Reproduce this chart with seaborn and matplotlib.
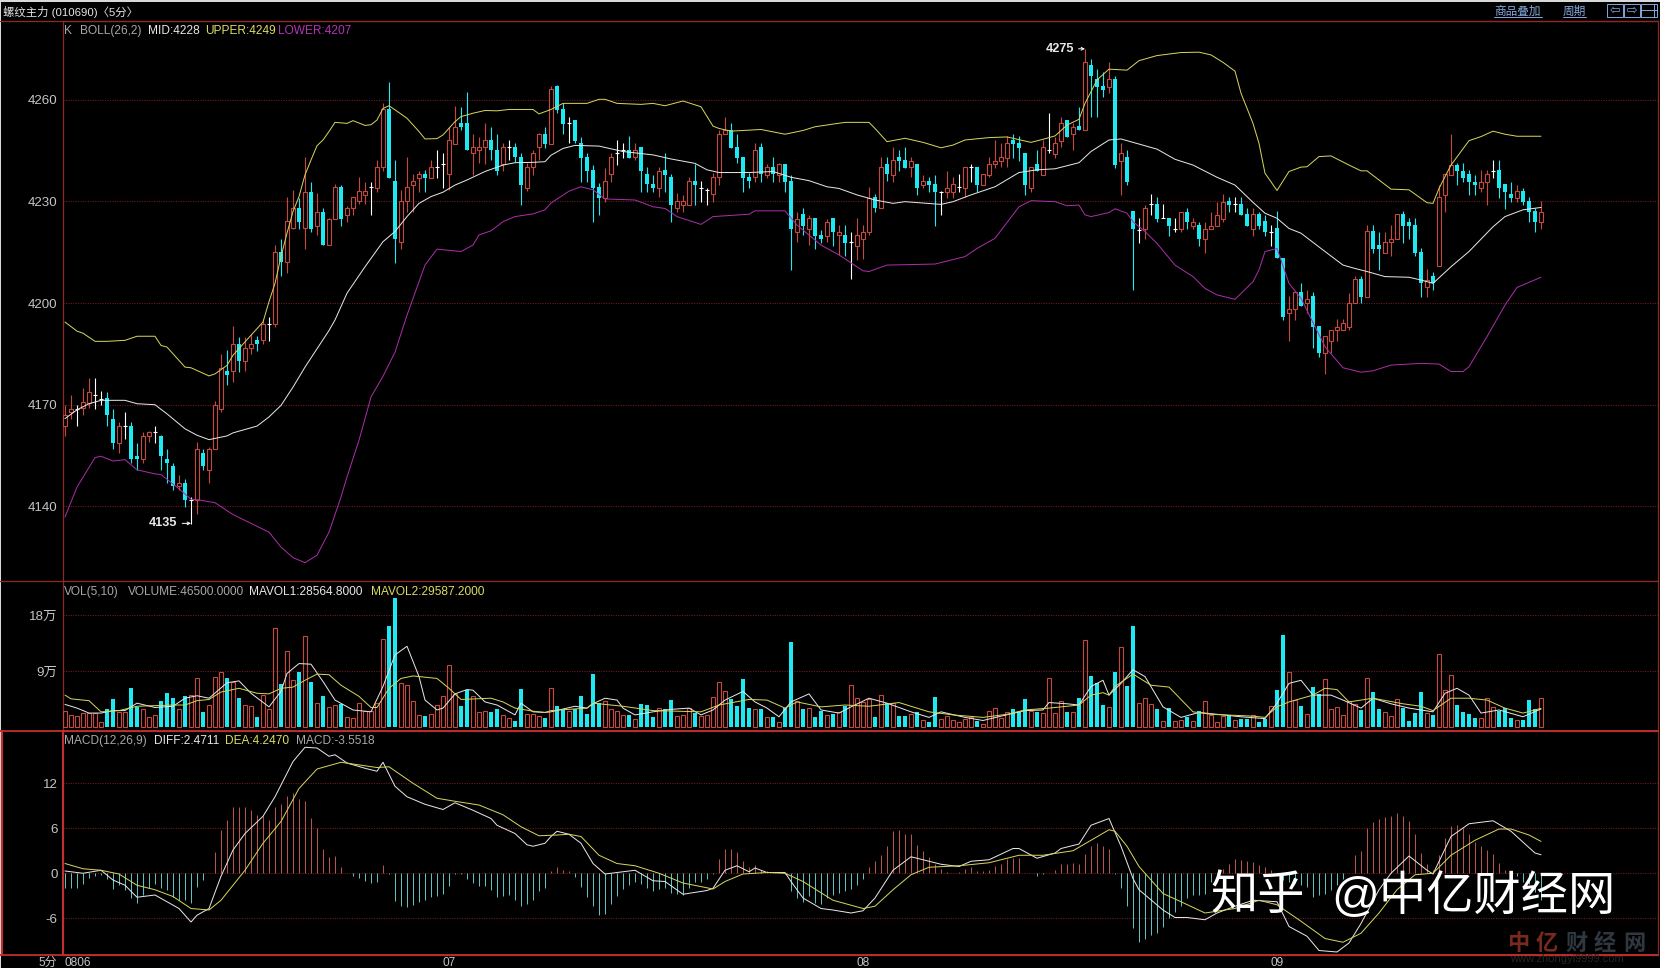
import matplotlib
matplotlib.use("Agg")
import numpy as np
import pandas as pd
import seaborn as sns
import matplotlib.pyplot as plt
from matplotlib.lines import Line2D
from matplotlib.patches import Rectangle

# one entry per 5 minute bar
opens = [4163.7,4167.8,4168.7,4169.1,4170.5,4172.8,4171.8,4172,4165.9,4158.7,
    4163.8,4163.8,4155,4154,4160.9,4161.9,4160.9,4154,4152,4145.9,
    4147,4142,4141.9,4155.8,4150.7,4157,4168.6,4180,4180,4188,
    4182.9,4186.7,4189,4189,4193.9,4193.9,4215,4212,4222,4228,
    4222,4232.9,4222.8,4227,4217,4224.9,4234.1,4226,4228,4230,
    4232,4234.1,4234,4240,4257.2,4235.9,4218,4230,4234.8,4236.9,
    4238,4237,4240,4240.9,4238,4247,4253,4253,4244.2,4245,
    4246,4248,4245,4241,4246,4246,4243,4234,4240,4246,
    4250,4247,4264,4257.1,4253.2,4253.9,4247.1,4243,4239.2,4234.1,
    4231.1,4238,4244.2,4245,4245,4243,4245.9,4238,4235,4234,
    4239.3,4237.2,4227.9,4229,4229,4235.9,4234,4233.2,4232.1,4237.1,
    4250,4250.9,4245.9,4243,4237.1,4237.1,4245.9,4237.9,4240,4237.9,
    4240.9,4235.9,4221,4226.3,4221.9,4225,4220,4219.9,4225,4220,
    4220,4217.9,4216.9,4218.9,4221,4231.2,4227.9,4241,4237.9,4243.2,
    4242.2,4240,4241,4234.8,4235.9,4235,4232.9,4232.9,4232.9,4234.1,
    4233.9,4240,4240,4234.9,4237.9,4240.9,4241.9,4242.9,4248.1,4247.1,
    4244.2,4233.9,4241,4237.9,4245,4244,4247.8,4254,4250,4252.1,
    4250.9,4270.2,4266,4264,4263.8,4266,4241.9,4243,4227.2,4221.4,
    4221.9,4229.1,4229.2,4225,4225,4221.9,4221.9,4227,4222.8,4223,
    4219,4221.9,4222.8,4224.9,4230.1,4229.1,4229.2,4226.2,4221.9,4226.2,
    4224.2,4221,4222,4213.2,4197,4198.1,4203.2,4200,4202.1,4193.1,
    4185.2,4188.9,4192,4191.9,4193,4199.9,4207.1,4201.9,4221.2,4217,
    4214.9,4217.9,4218.9,4226.2,4224,4222.9,4215,4204.8,4208,4211,
    4232,4237.8,4240.8,4239,4238,4235.8,4233.8,4235.8,4239,4239.3,
    4235,4232.1,4230.9,4233,4230,4227.2,4224]
closes = [4167,4168.8,4168.7,4170.8,4173.8,4172.8,4171.8,4167,4158.7,4163.8,
    4163.8,4154,4153.9,4160.9,4161.9,4161.9,4154.9,4152.8,4145.9,4146.9,
    4141.9,4142,4157,4151.9,4157,4170,4180.8,4178.7,4188,4182.9,
    4186.8,4188,4187.8,4193.9,4193.9,4215,4212,4224.1,4228,4224,
    4232.9,4221.8,4227,4217,4224.9,4234.1,4224.9,4228,4231.2,4233,
    4233,4234.1,4240,4257.2,4237,4219,4230,4234.1,4235.9,4238,
    4236.9,4240,4240,4240.9,4248,4252,4251.9,4245,4246,4246,
    4248,4245,4239,4246,4246,4243,4234.8,4240,4244.2,4250,
    4247,4263,4257,4252.8,4253.2,4247.8,4242.9,4239,4233.9,4231.1,
    4235.9,4243,4244.2,4245,4242.9,4245,4239,4235,4233.9,4239,
    4237.9,4228.9,4230,4230,4235.9,4234.8,4234,4233.2,4237.1,4250,
    4251,4245.7,4242.9,4237,4235.9,4245.2,4238,4240,4238,4241,
    4235.8,4221.9,4224.9,4222.8,4225,4219.9,4218.9,4224,4221,4221,
    4217.8,4217.9,4220,4221,4231.1,4227.9,4240,4238,4242.1,4242,
    4239.9,4242,4233.9,4235.9,4234.8,4232.8,4232.9,4233.9,4235,4234.1,
    4240,4240,4234.8,4238,4241,4242,4243,4247.1,4247,4245.8,
    4234.8,4240,4239,4245.9,4245,4247.1,4253,4249,4252,4250.9,
    4271.2,4267.1,4263.8,4262.9,4266.1,4240.7,4244.2,4235.8,4221.9,4221.4,
    4228,4229.1,4224.9,4225,4222.7,4221.9,4227,4224,4224,4218.9,
    4221.9,4222.8,4226,4229.9,4228.9,4229.1,4226,4222.8,4226.2,4222.8,
    4221,4221,4213.2,4196,4198.1,4203.2,4199,4201.1,4193,4185.2,
    4190.3,4191.9,4193,4194,4199.9,4207.1,4201.9,4221.2,4216,4216,
    4217.9,4219,4226.2,4222.7,4222.8,4214.7,4205.8,4206.8,4205.8,4231.2,
    4238,4240.7,4239,4237,4235.8,4234.8,4235.8,4238,4239,4233.8,
    4232.9,4230.9,4233,4229.9,4227,4224,4227]
highs = [4170,4173,4170,4175,4178,4178,4174,4173.8,4168.8,4164.9,
    4167.8,4164.9,4158.7,4161.9,4162.2,4163.8,4161,4157,4152.8,4149.2,
    4148,4142.8,4159,4157,4157.5,4171,4185,4186,4193.1,4190,
    4190,4190.9,4190.2,4195.4,4196,4217,4219,4231.2,4233.2,4231,
    4243,4235.8,4232.4,4228,4225,4235,4234.8,4228.6,4231.4,4237.3,
    4235.8,4235.8,4242.2,4258.9,4265.1,4242.2,4233.2,4243,4238,4239,
    4239.3,4242.2,4245.2,4244.2,4252,4258,4257.9,4262.2,4250,4249,
    4253,4252,4250,4247.1,4248,4247.1,4244.2,4241.2,4245.2,4250.1,
    4252,4264,4264.2,4259,4255,4254,4249.1,4244.2,4240.7,4235.3,
    4239.9,4244.2,4248.1,4247.1,4249.3,4247.1,4246,4240,4237.8,4240,
    4244.2,4238,4232.4,4231.9,4237.1,4241,4236,4234,4238.3,4251,
    4255,4253.2,4250,4243,4238.3,4247.1,4247.1,4241,4243,4241.2,
    4241,4237.8,4227,4227.9,4226,4225,4221.6,4224.7,4225,4223,
    4223,4221,4225,4223,4234.1,4232.1,4243,4243,4245.9,4245,
    4245.9,4243,4241,4237.8,4237.1,4237.8,4233,4239,4237.1,4238,
    4240,4241,4240,4238,4243,4248.1,4247.1,4249.3,4250,4249.3,
    4244.2,4240,4245,4248.1,4256,4249.1,4255,4254,4253,4257.9,
    4275,4272,4269,4268.3,4271.2,4267,4247.1,4245.2,4227.2,4225,
    4229,4232.2,4231.2,4229.2,4225,4225,4227,4228,4225,4224,
    4224,4227,4229.9,4232.2,4231.4,4231.2,4231.2,4228,4228,4227,
    4226,4223,4227.2,4213.2,4202,4203.2,4206,4203.9,4203.2,4193.1,
    4190.3,4191.9,4195.2,4195.2,4203,4208,4208,4223,4223,4221,
    4221,4223,4226.2,4227.2,4225,4225,4216.1,4210,4209.3,4234.8,
    4238,4250,4241.2,4241.2,4239.3,4237.8,4239.3,4239.3,4242.2,4242.2,
    4235,4235.8,4234.8,4234,4231.2,4228,4230]
lows = [4160.8,4165.7,4163.7,4166.9,4169.1,4168.8,4169.8,4163.7,4156.9,4155.7,
    4159.9,4152.8,4150.8,4152.8,4159,4158.7,4150.6,4146.9,4144.7,4144.7,
    4139.8,4134.9,4137.8,4150.6,4146.9,4157,4167.8,4175.7,4176.7,4179.6,
    4179.9,4185,4185.8,4187.8,4188.8,4192.9,4208,4209,4221.8,4221.8,
    4215.9,4221,4220,4217,4217,4224.9,4222.8,4224,4226,4229.2,
    4229.2,4226,4232.9,4239,4237,4211.9,4215.9,4227,4227,4232.9,
    4232.9,4237,4237,4233.8,4233.4,4247,4250.9,4245,4237.8,4241.2,
    4241,4242.2,4237.8,4239,4242.2,4241.7,4228.9,4233,4237.8,4242.2,
    4245.6,4247,4256,4249.9,4247.1,4247.1,4235.8,4235.8,4224,4226,
    4229.9,4235.8,4240.7,4242.9,4242.9,4242.2,4232.9,4232.9,4232.9,4231.2,
    4232.9,4224,4227,4226.9,4229,4229,4229.9,4229,4229.9,4234.8,
    4249.9,4245.7,4241.2,4232.9,4233.8,4235.8,4235.8,4237,4235.8,4235.8,
    4232.9,4209.8,4218.1,4220,4217.1,4216,4217.8,4218.1,4216.8,4214.2,
    4214,4207,4212.7,4213,4220,4226.9,4227.9,4236,4235.8,4239,
    4239.9,4237.1,4231.9,4233.8,4232.9,4222.8,4226,4230.9,4230.9,4232.9,
    4231.2,4235.8,4232.7,4234.9,4237.1,4239.7,4240,4240,4242.9,4241.9,
    4231.9,4232.9,4239,4237.9,4244.2,4242.9,4245.9,4249,4245,4250.9,
    4250.9,4255,4255,4260.7,4262.1,4239.9,4231.9,4234.8,4203.9,4217.8,
    4218.8,4226,4224,4225,4219.8,4221,4221,4221.9,4221.9,4216.8,
    4214.7,4221.9,4222.8,4224,4227,4227,4226,4222.8,4219.8,4221.9,
    4219.8,4216.8,4213.2,4195,4188.9,4195,4199,4197,4186.8,4184,
    4179,4185.2,4188.9,4191.9,4192,4199.9,4199.9,4201.9,4214.9,4209.8,
    4214.9,4213.9,4218.9,4217.8,4218.8,4213.9,4201.9,4201.9,4203.9,4211,
    4227,4237.8,4234.8,4235.8,4231.9,4231.9,4232.9,4228.9,4236.8,4230.9,
    4227.7,4229.9,4229.9,4228.9,4224,4221,4221.9]
# volume in units of 10 thousand
volumes = [2.5,1.9,1.7,2.2,2.2,2.2,.7,2.8,4.5,2.3,
    2.3,6.3,3.1,2.8,1.5,1.9,4.2,5.4,4.6,2.8,
    5,5.2,7.8,2.4,3.5,8,8.9,7.8,7.2,4.7,
    3.5,3.3,1.6,5.2,2.9,15.9,6.9,12.3,7.5,8.9,
    14.6,7.2,3.8,5,3.1,3.5,3.7,1.5,1.4,3.8,
    2.5,2.5,3.8,14.1,16.2,20.8,7,6.7,4.1,1.9,
    1.7,2,3.5,4.9,9.9,5.3,3.3,6,4.9,2.3,
    2.5,2.3,2.9,1.9,1.4,.9,6.1,2,2,1.7,
    1.4,6.2,3.3,2.8,2.6,2.8,5,2,8.5,3.8,
    4.2,2.8,2.5,1.9,1.9,1.2,3.6,3.5,1.6,3,
    2.8,4.3,1.7,1.9,3,2.2,1.7,1.9,4.8,7.3,
    5.7,4.5,3.4,7.7,3,2.9,2.9,1.6,1.6,.7,
    3,13.7,4.2,2.9,3,1.6,2.5,1.9,2.1,2.3,
    3.3,6.8,4.6,4,4.4,1.6,5.1,3.9,3.8,1.7,
    1.7,2,2.3,1,.8,4.8,1.2,1.8,1,.8,
    1.3,1.5,.9,.5,2.5,3,1.4,2.4,2.9,2.4,
    4.5,2.5,2.4,2.2,7.8,2.2,4.1,2.4,2.3,4.6,
    14,8.2,7.1,3.5,3.1,8.8,12.8,6.6,16.3,3.8,
    4.6,3.6,2.9,.9,3,.9,1,1.5,.9,2.5,
    4.1,1.9,.8,1.7,1.9,1.1,1.3,1.3,1.9,.8,
    1.3,3.3,5.9,14.8,8.9,4.3,3.3,2,6.4,5.3,
    7.7,2.8,3.1,1.9,4.2,3.7,2.7,7.8,5.6,2.9,
    2.3,1.7,4.4,3,.9,2.2,5.6,2.2,1.9,11.7,
    5.9,8.3,3.5,2.3,2,1.4,1.4,4.6,3.1,2.5,
    3,1.4,1,1.1,4.3,2.9,4.65]
macd_hist = [-2,-2,-1.9,-1.4,-.6,-.35,-.2,-.7,-2.1,-1.6,
    -2.2,-3.3,-3.9,-2.9,-2,-1.4,-1.9,-2.2,-3.1,-3.5,
    -3.6,-3.9,-1.8,-.9,.1,2.9,5.8,7.1,8.9,8.9,
    8.9,8.4,7.8,7.6,7.1,8.9,9.2,10.3,10.7,9.9,
    9.6,7.4,6,3.3,2.2,2.3,.9,.1,-.35,-.6,
    -1,-1.3,-1.1,1.1,-.1,-3.7,-4.4,-4.5,-4.2,-3.8,
    -3.6,-3.2,-3,-2.8,-1.7,-.1,-.1,-.8,-1.3,-1.7,
    -1.7,-2.2,-3.2,-3,-2.9,-3.6,-4.3,-4.1,-3.6,-2.3,
    -2,.3,.8,.5,.3,-.45,-1.8,-3.1,-4.4,-5.5,
    -5.4,-4.1,-3,-2.1,-1.6,-1.1,-1.4,-2,-2.4,-2.1,
    -2,-2.6,-2.7,-2.9,-2,-1.2,-1.1,-.8,-.1,1.9,
    3.3,3.3,2.9,1.6,.9,1.1,.5,.3,.1,.1,
    -.1,-2.4,-3.3,-3.8,-3,-4,-4.1,-3.3,-2.9,-2.6,
    -2.4,-2.1,-1.6,-.8,.9,1.6,2.4,3.6,5.6,5.8,
    5.3,5.2,3.8,3,2.2,1.3,.6,.2,.1,.2,
    .6,.8,.3,.3,.5,1,1.2,1.9,2.1,2,
    .1,0,-.35,-.1,.1,.4,1.3,1.2,1.4,1.3,
    2.6,3.6,4.1,3.6,3.2,-.1,-2,-4.4,-7.3,-9.1,
    -8.7,-8.2,-8,-7.1,-6,-5.1,-4.4,-3.3,-2.9,-2.9,
    -2.8,-1.1,-.2,.6,1.3,1.9,1.8,1.6,1.5,1.1,
    .8,.4,-.2,-.9,-1.1,-1.3,-1.6,-1.8,-3.1,-2.9,
    -2.7,-2.2,-1.6,-.7,.1,2.4,3,6,6.9,7.3,
    7.5,7.6,8,7.6,7,5.2,2.7,1.3,.4,2.4,
    4.7,6.3,6.5,6.1,5.3,4.2,3.6,3.1,2.6,1.4,
    .4,-.2,-.4,-1.1,-1.4,-2.5,-3.55]

# line readings as (bar number, value)
boll_upper = [(0,4194.4),(2,4191.7),(3,4191.1),(5,4188.7),(7,4188.7),(10,4189),(12,4190.2),(15,4190.2),(16,4187.5),(17,4187),
    (20,4181.1),(21,4180.9),(24,4178.5),(25,4179.1),(27,4181.6),(28,4184.6),(31,4190.5),(33,4194.4),(34,4200.4),(35,4205.8),
    (36,4213.7),(37,4220.6),(38,4227),(39,4231.4),(40,4237.8),(41,4242.2),(42,4246.4),(43,4248.1),(44,4250.6),(45,4253.3),
    (47,4253),(48,4253.8),(50,4252.4),(51,4252.6),(52,4254),(53,4257.4),(54,4258.2),(55,4257),(57,4254.5),(59,4250.6),
    (60,4248.4),(62,4248.5),(63,4249.6),(65,4253.5),(66,4255),(68,4256),(70,4256.8),(72,4256.7),(74,4257.1),(78,4257.1),
    (79,4255.8),(81,4257.1),(83,4258.9),(87,4258.9),(89,4260.1),(90,4260.1),(92,4258.9),(96,4258.6),(98,4258.9),(100,4258.2),
    (103,4259.6),(106,4257.9),(108,4252.2),(109,4251.5),(111,4250.7),(116,4251.2),(120,4249.8),(123,4250.9),(125,4252),(130,4253.3),
    (134,4253.3),(135,4251.5),(137,4247.6),(140,4248.6),(143,4247.4),(146,4245.8),(148,4246.6),(150,4248.1),(154,4248.8),(157,4249),
    (161,4247.4),(163,4248.3),(165,4249.3),(167,4252.5),(169,4254.2),(170,4258.9),(172,4265.8),(174,4269),(177,4268.7),(179,4271.5),
    (182,4273),(186,4273.9),(189,4274),(191,4273.2),(193,4271),(195,4268.4),(196,4261.9),(198,4253),(199,4247.1),(200,4238.3),
    (202,4233.2),(204,4238.8),(206,4240.1),(207,4240.2),(209,4243.2),(211,4243.4),(214,4240.7),(216,4239),(217,4239),(221,4233.6),
    (224,4233.4),(227,4229.6),(228,4229.4),(229,4233.8),(231,4240.7),(234,4247.9),(236,4249.1),(238,4250.7),(240,4249.8),(242,4249.2),(246,4249.2)]
boll_mid = [(0,4165.9),(2,4168.5),(4,4170.3),(6,4171.3),(10,4171.3),(12,4170.3),(15,4170),(17,4167.3),(20,4162.9),(22,4161),
    (24,4159.7),(27,4160.8),(28,4161.7),(32,4163.7),(34,4166.4),(36,4169.8),(38,4175.2),(40,4181.1),(42,4186.5),(44,4191.9),
    (45,4195),(47,4202.9),(50,4210.7),(53,4218.1),(55,4221.1),(57,4225.5),(59,4229.4),(61,4231.4),(63,4232.7),(65,4234.8),
    (67,4236.3),(70,4238.8),(73,4240.7),(75,4241.4),(78,4241.5),(80,4241.7),(81,4243.6),(83,4245.6),(85,4246.5),(89,4246.3),
    (93,4244.7),(98,4243.7),(101,4242.5),(105,4241.2),(107,4239.3),(109,4238.5),(114,4238.5),(118,4238.8),(121,4237.1),(124,4236.1),
    (127,4234.3),(129,4233.8),(132,4231.9),(135,4230.4),(138,4229.4),(140,4229.9),(146,4229.1),(148,4229.9),(151,4231.9),(155,4234.3),
    (159,4238.5),(162,4239.3),(165,4239.6),(169,4241.4),(171,4244.7),(174,4248.1),(176,4248.4),(179,4246.9),(182,4245.4),(185,4242.4),
    (188,4240.7),(192,4237.1),(195,4234.8),(198,4229.7),(200,4226.5),(202,4225),(204,4222),(206,4220.6),(210,4215.2),(213,4211.2),
    (215,4210.2),(217,4209.3),(220,4207.8),(224,4207.6),(226,4206.8),(228,4205.8),(231,4210.7),(234,4215.2),(238,4222.5),(240,4225.5),
    (243,4227.5),(246,4228.2)]
boll_lower = [(0,4136.9),(2,4145.7),(5,4154.4),(6,4154.8),(8,4153.4),(10,4153.8),(12,4150.8),(15,4149.6),(16,4149.4),(19,4145.2),
    (21,4142.1),(22,4142),(25,4141.1),(28,4137.6),(34,4132.4),(36,4128),(38,4124.9),(40,4123.4),(42,4125.6),(44,4132.4),
    (46,4142.8),(47,4148.7),(49,4159.5),(51,4172.3),(53,4178.4),(55,4185.5),(57,4196.4),(60,4211.2),(62,4215.9),(66,4215.2),
    (68,4217.1),(69,4220.1),(71,4221.3),(73,4224),(75,4225.5),(78,4226.3),(80,4227.5),(81,4229.5),(84,4233),(86,4234.3),
    (88,4233.4),(90,4230.7),(95,4230.4),(98,4228.4),(100,4227.9),(102,4225.5),(106,4223.2),(108,4225.5),(114,4226.2),(115,4227.2),
    (120,4227.2),(122,4223),(126,4217.1),(129,4214.2),(133,4209.5),(134,4209.3),(137,4211.2),(145,4211.5),(150,4213.7),(152,4216.1),
    (155,4219.1),(159,4228.4),(161,4230.2),(165,4229.9),(167,4228.7),(169,4228.9),(170,4226),(171,4225.5),(174,4226.7),(175,4227.8),
    (177,4226.5),(178,4224),(180,4221.1),(182,4217.6),(185,4211.2),(188,4207.8),(190,4204.3),(192,4202.4),(195,4201.1),(198,4206.3),
    (199,4209.8),(200,4215.2),(202,4216.1),(204,4205.8),(206,4201.4),(210,4187.1),(213,4180.9),(216,4179.6),(218,4180),(221,4181.7),
    (226,4182.2),(229,4182),(231,4179.8),(233,4179.8),(234,4181.2),(237,4190.1),(240,4199.4),(242,4204.6),(246,4207.6)]
mavol1 = [(0,3.6),(2,3),(4,2.2),(6,2.2),(8,2.6),(10,2.6),(12,3.8),(15,3.1),(18,3.3),(20,4.6),(22,5),(24,4.6),(27,7.1),(29,7.4),
    (31,5.4),(34,3.2),(36,5.7),(37,8.6),(39,10.2),(41,10.1),(43,7.3),(45,4.3),(48,2.7),(51,2.4),(53,6.5),(55,11.6),(57,13),(59,8.1),
    (60,4.3),(62,2.7),(63,3),(65,5.3),(67,6),(68,5.9),(70,4),(72,3.5),(75,1.9),(76,3.8),(78,2.4),(80,2.3),(81,2.4),(85,3.3),(87,3),
    (88,3.7),(90,4.6),(92,4.3),(93,3),(95,1.9),(98,2.4),(101,2.8),(104,3),(106,1.9),(108,2.7),(110,4.3),(113,5.7),(115,4),(117,3),
    (119,1.6),(121,4),(124,5.3),(126,2.7),(129,2.2),(131,3.2),(134,4.6),(137,3.8),(141,2.4),(144,1.5),(146,2.4),(150,1.5),(153,1),
    (156,1.7),(160,2.6),(163,2.7),(164,3.9),(167,3.7),(169,3.5),(171,6.5),(173,7.5),(174,5.1),(176,7),(178,9.2),(180,8.1),(183,3.2),
    (186,1.5),(189,2.3),(192,2),(196,1.6),(200,1.3),(202,3.8),(204,7),(206,7.5),(208,5.1),(211,5.1),(213,4.3),(216,3),(218,4.6),
    (221,3.7),(224,3),(228,2.4),(230,5.4),(232,6.2),(234,5.1),(236,2.2),(239,2.7),(243,1.6),(246,2.86)]
mavol2 = [(0,5.1),(1,4.5),(4,4.2),(6,2.4),(9,2.6),(12,3.3),(18,3.5),(20,3.5),(22,4.2),(24,4.4),(26,5.6),(29,6.2),(32,5.4),(34,5.3),
    (36,6.2),(38,6.4),(40,7.5),(42,8.5),(44,8.4),(46,6.7),(49,4.9),(51,3.1),(52,3.1),(54,6.2),(56,7.8),(58,8.2),(62,7.8),(64,6.2),
    (66,4.4),(71,4.6),(73,4),(75,3),(78,2.5),(80,2.3),(81,2.6),(87,3),(88,3.8),(93,3.3),(98,2.6),(106,2.4),(109,3.5),(114,4.4),(117,4.3),
    (120,3),(122,4),(126,3.2),(130,3.5),(134,3.3),(139,3.9),(144,2.4),(148,1.9),(153,1.5),(157,2),(160,2.7),(164,3),(169,3.5),(171,5.1),
    (173,5.5),(174,5.1),(175,6.5),(178,8.5),(181,6.7),(184,6.4),(188,2.4),(191,2),(198,1.7),(200,1.5),(202,3.2),(204,4),(208,5.1),
    (210,6.2),(212,6),(214,4),(218,4.6),(223,3.7),(226,3.3),(228,2.6),(231,4.6),(234,4.6),(237,4.3),(240,3),(243,2.2),(246,2.96)]
diff_line = [(0,.3),(3,0),(6,.4),(8,-.9),(10,-1.6),(12,-3.2),(15,-2.9),(19,-4.7),(21,-6.5),(22,-5.6),(24,-4.7),(26,-.4),(28,3.1),(30,5.3),
    (33,7.6),(35,10.2),(38,14.9),(40,16.8),(42,16.7),(44,15.6),(45,15.8),(47,14.7),(50,14),(52,13.6),(53,14.8),(55,11.6),(57,10.2),(60,9.2),
    (63,8.5),(65,9.4),(68,8.4),(71,7.3),(72,6.4),(75,5.3),(77,3.8),(78,3.6),(80,4),(81,4.9),(82,5.6),(84,5.2),(86,4),(88,1.3),(90,-.1),
    (93,.2),(95,.4),(98,-1),(100,-1.1),(103,-2.8),(107,-2.3),(108,-2),(110,.4),(112,1),(114,.2),(115,.7),(117,.1),(120,.1),(121,-1.1),
    (123,-3.3),(126,-4.7),(128,-4.9),(131,-5.3),(133,-5),(135,-3.3),(138,.4),(141,2.2),(146,1.2),(149,.9),(151,1.6),(154,1.8),(158,3.3),
    (159,3.3),(162,2),(165,2.7),(166,3.3),(169,3.9),(171,6.4),(174,7.3),(176,3.6),(178,-.7),(179,-2.2),(183,-4.9),(185,-5.9),(187,-5.9),
    (190,-6.2),(192,-5.3),(195,-4.4),(198,-3.6),(202,-3.8),(204,-7.1),(207,-8.4),(209,-10.3),(212,-10.5),(214,-9.3),(216,-6.7),(219,-2.2),
    (221,0),(224,2.3),(227,.4),(228,-.1),(231,4.9),(234,6.6),(238,7),(241,5.6),(245,2.7),(246,2.47)]
dea_line = [(0,1.3),(3,.6),(6,.4),(9,-.1),(12,-1.6),(15,-2.2),(18,-3.1),(21,-4.7),(24,-4.9),(26,-3.6),(30,.4),(33,4),(36,6.9),(39,11.3),
    (42,13.9),(46,14.8),(52,14.1),(54,14.2),(58,12),(62,10),(65,9.6),(69,9.1),(73,7.8),(76,6.2),(79,5),(82,5.1),(84,5.2),(86,4.9),(89,2.4),
    (92,1.3),(95,1),(99,0),(103,-1.3),(108,-2.1),(110,-1.1),(113,-.1),(117,.1),(120,0),(123,-1.1),(128,-3.6),(133,-4.7),(135,-4.4),(138,-2.2),
    (141,-.2),(144,.8),(149,1),(154,1.4),(159,2.4),(163,2.4),(168,3),(171,4.4),(174,5.8),(175,5.6),(177,3.6),(179,.9),(183,-2.7),(186,-3.8),
    (190,-5.3),(195,-4.7),(199,-3.6),(202,-4.2),(206,-6.4),(210,-8.7),(213,-9.2),(216,-8),(219,-5.3),(222,-2.2),(225,-.2),(228,0),(231,2.4),
    (235,4.4),(239,5.9),(241,5.9),(244,5.1),(246,4.25)]

price_ticks = [4140, 4170, 4200, 4230, 4260]
vol_ticks = [9, 18]
vol_tick_labels = ["9万", "18万"]
macd_ticks = [-6, 0, 6, 12]
date_labels = {64: "07", 133: "08", 202: "09"}

RED = "#c5493f"
CYAN = "#1ce9f2"
FRAME = "#8c2a2a"
FRAME_HI = "#c42e2e"
GRID = "#6e1a1a"
TICK = "#c4c4c4"
WHITE_LINE = "#e6e6e6"
YELLOW_LINE = "#d4d45c"
PURPLE_LINE = "#a82fa8"
BLUE_UI = "#86a8dc"

W, H = 1660, 968
LEFT, RIGHT = 62.5, 1658

sns.set_theme(style="dark", rc={
    "figure.facecolor": "black", "axes.facecolor": "black",
    "savefig.facecolor": "black", "text.color": "white",
})
plt.rcParams["font.family"] = ["Liberation Sans", "Noto Sans CJK SC", "DejaVu Sans"]

bars = pd.DataFrame({"open": opens, "high": highs, "low": lows, "close": closes,
                     "volume": volumes, "macd": macd_hist})
bars["bar"] = bars.index
up = bars[bars.close > bars.open]
down = bars[bars.close < bars.open]
doji = bars[bars.close == bars.open]

fig = plt.figure(figsize=(W / 100, H / 100), dpi=100)


def panel(top, bottom, ymax, ymin, ticks, labels=None):
    ax = fig.add_axes([LEFT / W, 1 - bottom / H, (RIGHT - LEFT) / W, (bottom - top) / H])
    ax.set_xlim(-0.417, 265.5)
    ax.set_ylim(ymin, ymax)
    ax.set_xticks([])
    ax.set_yticks(ticks)
    ax.set_yticklabels(labels if labels else [str(t) for t in ticks])
    ax.tick_params(axis="y", length=0, pad=3.5, labelsize=9.6, labelcolor=TICK)
    ax.grid(axis="y", color=GRID, linestyle=(0, (1, 1.2)), linewidth=0.8)
    ax.set_axisbelow(True)
    ax.set_xlabel("")
    ax.set_ylabel("")
    for side in ax.spines:
        ax.spines[side].set_color(FRAME)
        ax.spines[side].set_linewidth(0.9)
    return ax


def draw_line(ax, points, color, lw=0.72):
    xs = [p[0] for p in points]
    ys = [p[1] for p in points]
    sns.lineplot(x=xs, y=ys, color=color, linewidth=lw, ax=ax, estimator=None,
                 legend=False, zorder=5)


def label(x, y, text, color, size=8.6, **kw):
    kw.setdefault("va", "center")
    return fig.text(x / W, 1 - y / H, text, color=color, fontsize=size, **kw)


def hline(y, x0, x1, color=FRAME, lw=0.9):
    fig.add_artist(Line2D([x0 / W, x1 / W], [1 - y / H, 1 - y / H], color=color, linewidth=lw))


def vline(x, y0, y1, color=FRAME, lw=0.9):
    fig.add_artist(Line2D([x / W, x / W], [1 - y0 / H, 1 - y1 / H], color=color, linewidth=lw))


# price panel
ax_k = panel(21, 581, 4283.2, 4118, price_ticks)
for part, col in ((up, RED), (down, CYAN), (doji, "white")):
    ax_k.vlines(part.bar, part.low, part.high, color=col, linewidth=0.8, zorder=2)
ax_k.bar(up.bar, up.close - up.open, bottom=up.open, width=0.72, facecolor="black",
         edgecolor=RED, linewidth=0.8, zorder=3)
ax_k.bar(down.bar, down.open - down.close, bottom=down.close, width=0.78, color=CYAN,
         linewidth=0, zorder=3)
ax_k.hlines(doji.close, doji.bar - 0.38, doji.bar + 0.38, color="white", linewidth=0.8, zorder=3)
draw_line(ax_k, boll_upper, YELLOW_LINE)
draw_line(ax_k, boll_mid, WHITE_LINE)
draw_line(ax_k, boll_lower, PURPLE_LINE)
ax_k.set_xlim(-0.417, 265.5)
arrow = dict(arrowstyle="->", color="white", linewidth=0.7, mutation_scale=5, shrinkA=1, shrinkB=0)
ax_k.annotate("4135", xy=(21, 4135), xytext=(-9.7, 0), textcoords="offset points", ha="right",
              va="center", color="#e8e8e8", fontsize=9.2, fontweight="bold", arrowprops=arrow)
ax_k.annotate("4275", xy=(170, 4275), xytext=(-8, 0), textcoords="offset points", ha="right",
              va="center", color="#e8e8e8", fontsize=9.2, fontweight="bold", arrowprops=arrow)

# volume panel
ax_v = panel(581, 731, 23.55, -0.7, vol_ticks, vol_tick_labels)
rising = bars[bars.close >= bars.open]
sns.barplot(x=rising.bar.values, y=rising.volume.values, native_scale=True, fill=False, color=RED,
            width=0.72, linewidth=0.8, errorbar=None, legend=False, ax=ax_v, zorder=3)
sns.barplot(x=down.bar.values, y=down.volume.values, native_scale=True, color=CYAN,
            width=0.78, linewidth=0, saturation=1, errorbar=None, legend=False, ax=ax_v, zorder=3)
draw_line(ax_v, mavol1, WHITE_LINE, 0.72)
draw_line(ax_v, mavol2, YELLOW_LINE, 0.72)
ax_v.set_xlim(-0.417, 265.5)
ax_v.set_ylim(-0.7, 23.55)
ax_v.set_xticks([])

# macd panel, the histogram stems are hairline bars
ax_m = panel(731, 955, 18.97, -10.9, macd_ticks)
pos = bars[bars.macd >= 0]
neg = bars[bars.macd < 0]
sns.barplot(x=pos.bar.values, y=pos.macd.values, native_scale=True, fill=False, color="#b8544b",
            width=0.01, linewidth=0.72, errorbar=None, legend=False, ax=ax_m, zorder=3)
sns.barplot(x=neg.bar.values, y=neg.macd.values, native_scale=True, fill=False, color="#5cc0c0",
            width=0.01, linewidth=0.72, errorbar=None, legend=False, ax=ax_m, zorder=3)
draw_line(ax_m, diff_line, WHITE_LINE, 0.72)
draw_line(ax_m, dea_line, YELLOW_LINE, 0.72)
ax_m.set_xlim(-0.417, 265.5)
ax_m.set_ylim(-10.9, 18.97)
ax_m.set_xticks([])

# window frame
fig.add_artist(Rectangle((0, 1 - 2 / H), 1, 2 / H, transform=fig.transFigure, color="#d8d8d8", linewidth=0))
fig.add_artist(Rectangle((0, 0), 1 / W, 1, transform=fig.transFigure, color="#d8d8d8", linewidth=0))
hline(20.7, 0, RIGHT)
hline(581, 0, LEFT)
hline(731, 0, RIGHT, FRAME_HI, 1.3)
hline(955, 0, RIGHT, FRAME_HI, 1.3)
vline(LEFT, 731, 955, FRAME_HI, 1.5)
vline(1.5, 731, 955, FRAME_HI, 1.5)

# header row
label(3, 11.5, "螺纹主力 (010690)〈5分〉", "#e4e4e4", 8.2)
label(1494, 11.5, "商品叠加", BLUE_UI, 8.4)
hline(17, 1494, 1542, BLUE_UI, 0.7)
label(1563, 11.5, "周期", BLUE_UI, 8.4)
hline(17, 1563, 1586, BLUE_UI, 0.7)
for x0 in (1607, 1624, 1641):
    fig.add_artist(Rectangle((x0 / W, 1 - 16.5 / H), 16 / W, 12.5 / H, transform=fig.transFigure,
                             facecolor="none", edgecolor=BLUE_UI, linewidth=0.7))
label(1615, 10.5, "⇦", BLUE_UI, 9, ha="center", family="DejaVu Sans")
label(1632, 10.5, "⇨", BLUE_UI, 9, ha="center", family="DejaVu Sans")
hline(10.3, 1641, 1657, BLUE_UI, 0.7)
vline(1654, 4, 16.5, BLUE_UI, 0.7)

# indicator captions
label(64, 30.7, "K", "#a8a8a8")
label(80, 30.7, "BOLL(26,2)", "#a8a8a8")
label(148, 30.7, "MID:4228", "#e8e8e8")
label(205, 30.7, "UPPER:4249", "#dcdc62")
label(277.5, 30.7, "LOWER:4207", "#b234b4")
label(64, 591.7, "VOL(5,10)", "#a8a8a8")
label(127.5, 591.7, "VOLUME:46500.0000", "#a8a8a8")
label(249, 591.7, "MAVOL1:28564.8000", "#e8e8e8")
label(371.4, 591.7, "MAVOL2:29587.2000", "#dcdc62")
label(64, 740.7, "MACD(12,26,9)", "#a8a8a8")
label(154.3, 740.7, "DIFF:2.4711", "#e8e8e8")
label(225.4, 740.7, "DEA:4.2470", "#dcdc62")
label(295.7, 740.7, "MACD:-3.5518", "#a8a8a8")

# date axis
label(57, 962.5, "5分", TICK, 8.6, ha="right")
label(64, 962.5, "0806", TICK, 8.6)
for bar, text in date_labels.items():
    label(65 + 6 * bar, 962.5, text, TICK, 8.6, ha="center")

# watermarks
label(1210, 897, "知乎", "white", 34)
label(1331, 897, "@中亿财经网", "white", 34)
for x0, ch, col in ((1507, "中", "#7a2a1c"), (1536, "亿", "#7a2a1c"), (1565, "财", "#2f3840"),
                    (1594, "经", "#2f3840"), (1623, "网", "#2f3840")):
    label(x0, 944, ch, col, 16, fontweight="bold", style="italic")
label(1510, 959, "www.zhongyi9999.com", "#2a2424", 8)

fig.savefig("out.png", dpi=100)
